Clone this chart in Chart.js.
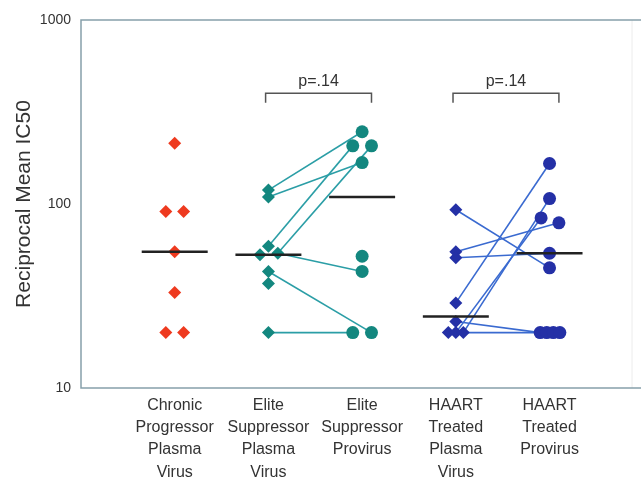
<!DOCTYPE html>
<html>
<head>
	<meta charset="utf-8">
	<title>Reciprocal Mean IC50</title>
	<script src="https://cdn.jsdelivr.net/npm/chart.js@4.4.0/dist/chart.umd.min.js"></script>
	<style>
		body { margin: 0; background: #fff; }
	</style>
</head>
<body>
	<canvas id="myChart" width="641" height="480"></canvas>
	<script type="text/javascript">
	// categories (one per column, split in lines like the original)
	var categories = [
		["Chronic", "Progressor", "Plasma", "Virus"],
		["Elite", "Suppressor", "Plasma", "Virus"],
		["Elite", "Suppressor", "Provirus"],
		["HAART", "Treated", "Plasma", "Virus"],
		["HAART", "Treated", "Provirus"]
	];
	var yTicks = [10, 100, 1000];

	// values
	var chronicPlasma = [214, 91, 91, 55, 33, 20, 20];
	var elitePlasma = [119, 109, 59, 53, 54, 43, 37, 20];
	var eliteProvirus = [247, 207, 207, 168, 52, 43, 20, 20];
	var haartPlasma = [93, 55, 51, 29, 23, 20, 20, 20];
	var haartProvirus = [166, 107, 84, 79, 54, 45, 20, 20, 20, 20];
	var groupMeans = [55, 53, 109, 24.5, 54];

	// which plasma point is linked to which provirus point
	var elitePairs = [[0, 0], [1, 3], [2, 1], [4, 2], [4, 5], [5, 7], [7, 6]];
	var haartPairs = [[0, 5], [1, 3], [2, 4], [3, 0], [7, 1], [6, 2], [4, 6], [5, 7]];

	var pValues = [
		{ from: 2, to: 3, text: "p=.14" },
		{ from: 4, to: 5, text: "p=.14" }
	];

	// sideways spread of overlapping markers (layout only)
	var chronicJitter = [0, -0.095, 0.095, 0, 0, -0.095, 0.095];
	var elitePlasmaJitter = [0, 0, 0, -0.09, 0.1, 0, 0, 0];
	var eliteProvirusJitter = [0, -0.1, 0.1, 0, 0, 0, -0.1, 0.1];
	var haartPlasmaJitter = [0, 0, 0, 0, 0, -0.08, 0, 0.08];
	var haartProvirusJitter = [0, 0, -0.09, 0.1, 0, 0, -0.1, -0.03, 0.04, 0.11];

	var red = "#ee3a1f";
	var tealDot = "#13877f", tealLine = "#2b9ea6";
	var blueDot = "#2430a6", blueLine = "#3a6ad0";
	var fontFamily = "'Liberation Sans', Arial, sans-serif";

	function points(vals, cat, jit) {
		return vals.map(function (v, i) { return { x: cat + jit[i], y: v }; });
	}

	var chronicPts = points(chronicPlasma, 1, chronicJitter);
	var elitePts = points(elitePlasma, 2, elitePlasmaJitter);
	var eliteProvPts = points(eliteProvirus, 3, eliteProvirusJitter);
	var haartPts = points(haartPlasma, 4, haartPlasmaJitter);
	var haartProvPts = points(haartProvirus, 5, haartProvirusJitter);

	var datasets = [];

	function addPairs(pairs, from, to, color) {
		pairs.forEach(function (p) {
			datasets.push({
				data: [from[p[0]], to[p[1]]],
				showLine: true,
				borderColor: color,
				borderWidth: 1.6,
				pointRadius: 0,
				order: 3
			});
		});
	}
	addPairs(elitePairs, elitePts, eliteProvPts, tealLine);
	addPairs(haartPairs, haartPts, haartProvPts, blueLine);

	function addDots(pts, color, style, r) {
		datasets.push({
			data: pts,
			backgroundColor: color,
			borderWidth: 0,
			pointStyle: style,
			pointRadius: r,
			order: 2
		});
	}
	addDots(chronicPts, red, "rectRot", 6.5);
	addDots(elitePts, tealDot, "rectRot", 6.5);
	addDots(eliteProvPts, tealDot, "circle", 6.5);
	addDots(haartPts, blueDot, "rectRot", 6.5);
	addDots(haartProvPts, blueDot, "circle", 6.5);

	groupMeans.forEach(function (m, i) {
		datasets.push({
			data: [{ x: i + 1 - 0.352, y: m }, { x: i + 1 + 0.352, y: m }],
			showLine: true,
			borderColor: "#222",
			borderWidth: 2.5,
			pointRadius: 0,
			order: 1
		});
	});

	// plot frame: grey-blue on left/top/bottom, faint on the right
	var framePlugin = {
		id: "frame",
		beforeDatasetsDraw: function (chart) {
			var a = chart.chartArea, ctx = chart.ctx;
			ctx.save();
			ctx.strokeStyle = "#ececec";
			ctx.lineWidth = 1;
			ctx.beginPath();
			ctx.moveTo(a.right, a.top);
			ctx.lineTo(a.right, a.bottom);
			ctx.stroke();
			ctx.strokeStyle = "#86a0aa";
			ctx.lineWidth = 1.5;
			ctx.beginPath();
			ctx.moveTo(641, a.top);
			ctx.lineTo(a.left, a.top);
			ctx.lineTo(a.left, a.bottom);
			ctx.lineTo(641, a.bottom);
			ctx.stroke();
			ctx.restore();
		}
	};

	// p-value brackets above the paired columns
	var bracketPlugin = {
		id: "brackets",
		afterDraw: function (chart) {
			var xs = chart.scales.x, ys = chart.scales.y, ctx = chart.ctx;
			ctx.save();
			ctx.strokeStyle = "#555";
			ctx.lineWidth = 1.5;
			ctx.fillStyle = "#333";
			ctx.font = "16px " + fontFamily;
			ctx.textAlign = "center";
			ctx.textBaseline = "middle";
			pValues.forEach(function (p) {
				var x1 = xs.getPixelForValue(p.from - 0.03);
				var x2 = xs.getPixelForValue(p.to + 0.1);
				var y = ys.getPixelForValue(400);
				var yl = ys.getPixelForValue(355);
				ctx.beginPath();
				ctx.moveTo(x1, yl);
				ctx.lineTo(x1, y);
				ctx.lineTo(x2, y);
				ctx.lineTo(x2, yl);
				ctx.stroke();
				ctx.fillText(p.text, (x1 + x2) / 2, ys.getPixelForValue(465));
			});
			ctx.restore();
		}
	};

	var ctx = document.getElementById("myChart");
	var myChart = new Chart(ctx, {
		type: "scatter",
		data: { datasets: datasets },
		options: {
			responsive: false,
			animation: false,
			layout: { padding: { top: 20, right: 9, left: 0, bottom: 0 } },
			plugins: {
				legend: { display: false },
				tooltip: { enabled: false }
			},
			scales: {
				x: {
					type: "linear",
					min: 0,
					max: 5.88,
					afterBuildTicks: function (s) {
						s.ticks = categories.map(function (c, i) { return { value: i + 1 }; });
					},
					afterFit: function (s) { s.height = 92; },
					grid: { display: false, drawTicks: false },
					border: { display: false },
					ticks: {
						autoSkip: false,
						maxRotation: 0,
						padding: 6,
						color: "#333",
						font: { family: fontFamily, size: 16, lineHeight: 1.4 },
						callback: function (v, i) { return categories[i]; }
					}
				},
				y: {
					type: "logarithmic",
					min: 10,
					max: 1000,
					afterBuildTicks: function (s) {
						s.ticks = yTicks.map(function (v) { return { value: v }; });
					},
					afterFit: function (s) { s.width = 81; },
					grid: { display: false, drawTicks: false },
					border: { display: false },
					ticks: {
						padding: 10,
						color: "#333",
						font: { family: fontFamily, size: 14 },
						callback: function (v) { return String(v); }
					},
					title: {
						display: true,
						text: "Reciprocal Mean IC50",
						color: "#333",
						padding: { top: 12, bottom: 0 },
						font: { family: fontFamily, size: 21 }
					}
				}
			}
		},
		plugins: [framePlugin, bracketPlugin]
	});
	</script>
</body>
</html>
